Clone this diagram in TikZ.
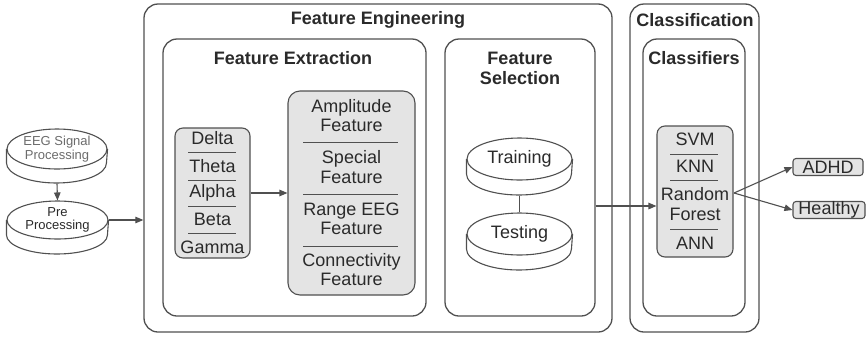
\documentclass[tikz,border=0pt]{standalone}
\usepackage{fontspec}
\setmainfont{Liberation Sans}
\usetikzlibrary{arrows.meta,shapes.geometric}
\definecolor{linec}{HTML}{505050}
\definecolor{boxfill}{HTML}{E4E4E4}
\definecolor{txt}{HTML}{2A2A2A}
\begin{document}
\begin{tikzpicture}[x=1pt,y=-1pt,
  frame/.style={draw=linec, line width=1.3pt, rounded corners=14pt, inner sep=0},
  title/.style={font=\fontsize{18}{20}\selectfont\bfseries, text=txt, align=center, inner sep=0},
  item/.style={font=\fontsize{18}{19.5}\selectfont, text=txt, align=center, inner sep=0},
  sepline/.style={draw=linec, line width=1pt},
  gbox/.style={draw=linec, fill=boxfill, line width=1.1pt, inner sep=0},
  arr/.style={draw=linec, line width=1.1pt, -{Triangle[length=8pt,width=6.5pt]}},
  disk/.style={ellipse, draw=linec, fill=white, line width=1.1pt, inner sep=0, align=center},
  diskside/.style={draw=linec, line width=1.1pt},
  small/.style={font=\fontsize{13}{13.5}\selectfont}
]
\fill[white] (0,0) rectangle (866,338);
\useasboundingbox (0,0) rectangle (866,338);

% frames
\node[frame, minimum width=468pt, minimum height=328pt] (fe) at (378,168) {};
\node[frame, minimum width=263pt, minimum height=277pt] (fx) at (294.5,177.5) {};
\node[frame, minimum width=150pt, minimum height=277pt] (fs) at (520,177.5) {};
\node[frame, minimum width=129pt, minimum height=328pt] (cl) at (694.5,168) {};
\node[frame, minimum width=102pt, minimum height=277pt] (cf) at (694,177.5) {};

% titles
\node[title] (tfe) at (378,20) {Feature Engineering};
\node[title] (tfx) at (293,58) {Feature Extraction};
\node[title] (tfs) at (520,68) {Feature\\Selection};
\node[title] (tcl) at (695,20) {Classification};
\node[title] (tcf) at (694,58) {Classifiers};

% input disks
\node[disk, minimum width=100pt, minimum height=40pt, small, text=gray!85!black] (eeg) at (57,149) {EEG Signal\\Processing};
\draw[diskside] (eeg.west) -- ++(0,14) arc[start angle=180,end angle=360,x radius=50pt,y radius=20pt] -- (eeg.east);
\node[disk, minimum width=101pt, minimum height=38pt, small, text=txt] (pre) at (57.5,220) {Pre\\Processing};
\draw[diskside] (pre.west) -- ++(0,15) arc[start angle=180,end angle=360,x radius=50.5pt,y radius=19pt] -- (pre.east);

\draw[arr] ([yshift=-14pt]eeg.south) -- (pre.north);
\draw[arr] (pre.east) -- (pre.east -| fe.west);

% bands box
\node[gbox, rounded corners=8pt, minimum width=75pt, minimum height=130pt] (bands) at (212.5,193) {};
\node[item] (delta) at (212.5,138) {Delta};
\node[item] (theta) at (212.5,166) {Theta};
\node[item] (alpha) at (212.5,193) {Alpha};
\node[item] (beta)  at (212.5,219) {Beta};
\node[item] (gamma) at (212.5,247) {Gamma};
\foreach \yy in {152,180,206,233} \draw[sepline] (188,\yy) -- (236,\yy);

% features box
\node[gbox, rounded corners=12pt, minimum width=127pt, minimum height=204pt] (feats) at (351.5,193) {};
\node[item] (amp)  at (351.5,115.5) {Amplitude\\Feature};
\node[item] (spec) at (351.5,167) {Special\\Feature};
\node[item] (reeg) at (351.5,219) {Range EEG\\Feature};
\node[item] (conn) at (351.5,269.5) {Connectivity\\Feature};
\foreach \yy in {142,194,246} \draw[sepline] (303,\yy) -- (398,\yy);

\draw[arr] (bands.east) -- (feats.west);

% selection disks
\node[disk, minimum width=105pt, minimum height=42pt, item] (train) at (519.5,159) {Training};
\draw[diskside] (train.west) -- ++(0,15) arc[start angle=180,end angle=360,x radius=52.5pt,y radius=21pt] -- (train.east);
\node[disk, minimum width=105pt, minimum height=42pt, item] (test) at (519.5,234) {Testing};
\draw[diskside] (test.west) -- ++(0,15) arc[start angle=180,end angle=360,x radius=52.5pt,y radius=21pt] -- (test.east);
\draw[diskside] ([yshift=-15pt]train.south) -- (test.north);

% classifiers box
\node[gbox, rounded corners=8pt, minimum width=76pt, minimum height=131pt] (clf) at (695,191.5) {};
\node[item] (svm) at (695,139) {SVM};
\node[item] (knn) at (695,166) {KNN};
\node[item] (rf)  at (695,204) {Random\\Forest};
\node[item] (ann) at (695,243) {ANN};
\foreach \yy in {154,180,229} \draw[sepline] (670,\yy) -- (718,\yy);

\draw[arr] (fs.east |- 0,206) -- (clf.west |- 0,206);

% outputs
\node[gbox, rounded corners=3pt, minimum width=70pt, minimum height=17pt, item] (adhd) at (828,167) {ADHD};
\node[gbox, rounded corners=3pt, minimum width=72pt, minimum height=17pt, item] (healthy) at (829,210) {Healthy};
\coordinate (split) at (734,193);
\draw[arr] (split) -- (adhd.west);
\draw[arr] (split) -- (healthy.west);
\end{tikzpicture}
\end{document}
